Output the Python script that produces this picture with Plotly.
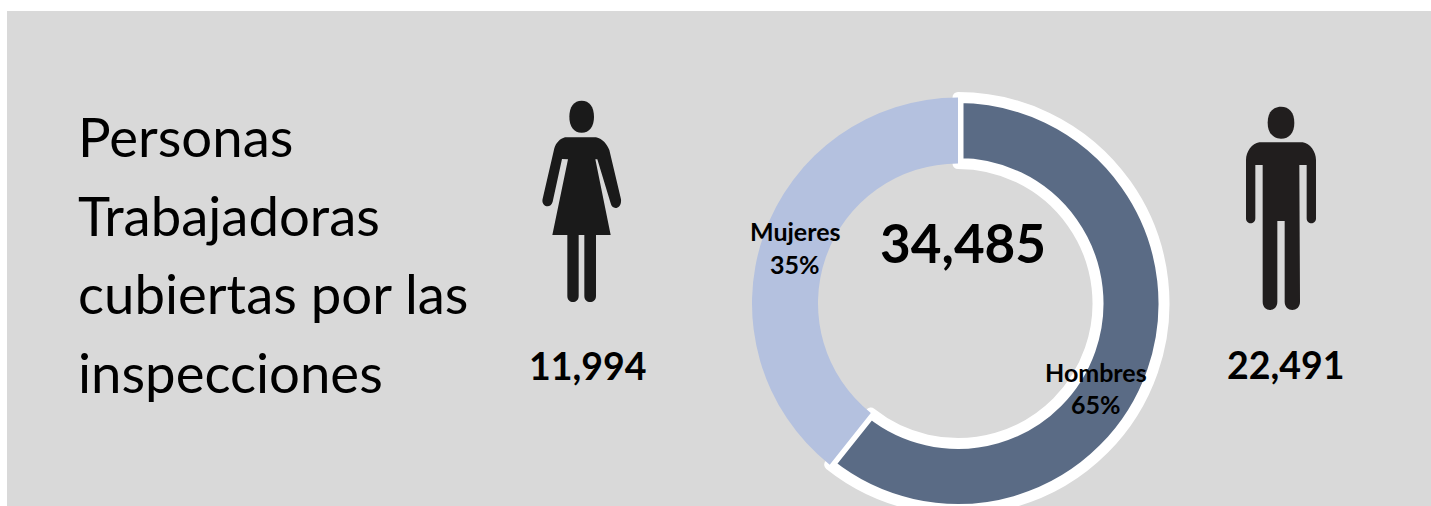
import plotly.graph_objects as go

W, H = 1431, 506
FIG_H = 520  # the ring runs past the bottom of the window in the reference

# Data
categories = ["Hombres", "Mujeres"]
slice_shares = [60.7, 39.3]  # slice sizes as drawn in the reference (the printed labels say 65/35)
label_percent = ["65%", "35%"]
worker_counts = ["22,491", "11,994"]
total_count = "34,485"
title_lines = ["Personas", "Trabajadoras", "cubiertas por las", "inspecciones"]

FONT = "Lato, Carlito, Calibri, sans-serif"
BG = "#d9d9d9"


def px(x):
    return x / W


def py(y):
    return 1 - y / FIG_H


def to_path(cmds, ox, oy, s=1 / 3):
    out = []
    for c in cmds:
        vals = []
        for a, b in zip(c[1::2], c[2::2]):
            vals.append(f"{px(ox + a * s):.5f},{py(oy + b * s):.5f}")
        out.append(c[0] + " ".join(vals))
    return " ".join(out) + " Z"


def ellipse(cx, cy, rx, ry):
    k = 0.62
    return [
        ("M", cx - rx, cy),
        ("C", cx - rx, cy - k * ry, cx - k * rx, cy - ry, cx, cy - ry),
        ("C", cx + k * rx, cy - ry, cx + rx, cy - k * ry, cx + rx, cy),
        ("C", cx + rx, cy + k * ry, cx + k * rx, cy + ry, cx, cy + ry),
        ("C", cx - k * rx, cy + ry, cx - rx, cy + k * ry, cx - rx, cy),
    ]


woman_body = [
    ("M", 135, 142), ("L", 228, 142), ("C", 248, 145, 262, 165, 268, 180),
    ("L", 303, 328), ("C", 306, 358, 276, 362, 272, 340), ("L", 232, 208),
    ("L", 226, 208), ("L", 272, 435), ("L", 228, 435), ("L", 228, 618),
    ("C", 228, 642, 193, 642, 193, 618), ("L", 193, 435), ("L", 176, 435),
    ("L", 176, 618), ("C", 176, 642, 142, 642, 142, 618), ("L", 142, 435),
    ("L", 97, 435), ("L", 144, 208), ("L", 126, 207), ("L", 98, 335),
    ("C", 92, 358, 62, 350, 68, 326), ("L", 103, 175), ("C", 108, 158, 120, 146, 135, 142),
]
man_body = [
    ("M", 118, 157), ("L", 248, 157), ("C", 270, 160, 288, 185, 288, 210),
    ("L", 288, 385), ("C", 288, 405, 260, 405, 260, 385), ("L", 260, 225),
    ("L", 238, 225), ("L", 240, 635), ("C", 240, 668, 194, 668, 194, 635),
    ("L", 194, 393), ("L", 172, 393), ("L", 172, 635), ("C", 172, 668, 128, 668, 128, 635),
    ("L", 128, 225), ("L", 106, 225), ("L", 106, 385), ("C", 106, 405, 78, 405, 78, 385),
    ("L", 78, 210), ("C", 78, 185, 96, 160, 118, 157),
]

shapes = [dict(type="rect", xref="paper", yref="paper", x0=px(7), x1=px(1431), y0=py(11), y1=0,
               fillcolor=BG, line_width=0, layer="below")]
for cmds, ox, oy, col in [
    (ellipse(185, 80, 37, 48), 520, 90, "#1a1a1a"),
    (woman_body, 520, 90, "#1a1a1a"),
    (ellipse(183, 98, 40, 48), 1220, 90, "#211e1e"),
    (man_body, 1220, 90, "#211e1e"),
]:
    shapes.append(dict(type="path", xref="paper", yref="paper", path=to_path(cmds, ox, oy),
                       fillcolor=col, line_width=0, layer="above"))

CX, CY, R = 958, 303.5, 206
fig = go.Figure(go.Pie(
    labels=categories, values=slice_shares, hole=140 / 206, sort=False, direction="clockwise",
    rotation=0, textinfo="none", hoverinfo="label+percent", showlegend=False,
    marker=dict(colors=["#5a6b85", "#b4c1df"], line=dict(color="white", width=[11, 0])),
    domain=dict(x=[px(CX - R), px(CX + R)], y=[py(CY + R), py(CY - R)]),
))


def text(x, y, s, size, bold=False, anchor="center", family=FONT):
    return dict(xref="paper", yref="paper", x=px(x), y=py(y), text=f"<b>{s}</b>" if bold else s,
                showarrow=False, xanchor=anchor, yanchor="middle",
                font=dict(family=family, size=size, color="black"))


annotations = [text(76, y, line, 54.5, anchor="left") for y, line in zip([136, 215, 293, 372], title_lines)]
annotations += [
    text(963, 242, total_count, 53, bold=True),
    text(588, 365, worker_counts[1], 37.5, bold=True),
    text(1286, 364, worker_counts[0], 37.5, bold=True),
    text(795, 231, categories[1], 25, bold=True),
    text(795, 264, label_percent[1], 25, bold=True),
    text(1096, 372, categories[0], 25, bold=True),
    text(1096, 404, label_percent[0], 25, bold=True),
]

fig.update_layout(width=W, height=FIG_H, margin=dict(l=0, r=0, t=0, b=0), autosize=False,
                  paper_bgcolor="white", shapes=shapes, annotations=annotations)
fig.write_html("out.html", config=dict(displayModeBar=False),
               post_script="document.documentElement.style.overflow='hidden';document.body.style.overflow='hidden';document.body.style.margin='0';")
